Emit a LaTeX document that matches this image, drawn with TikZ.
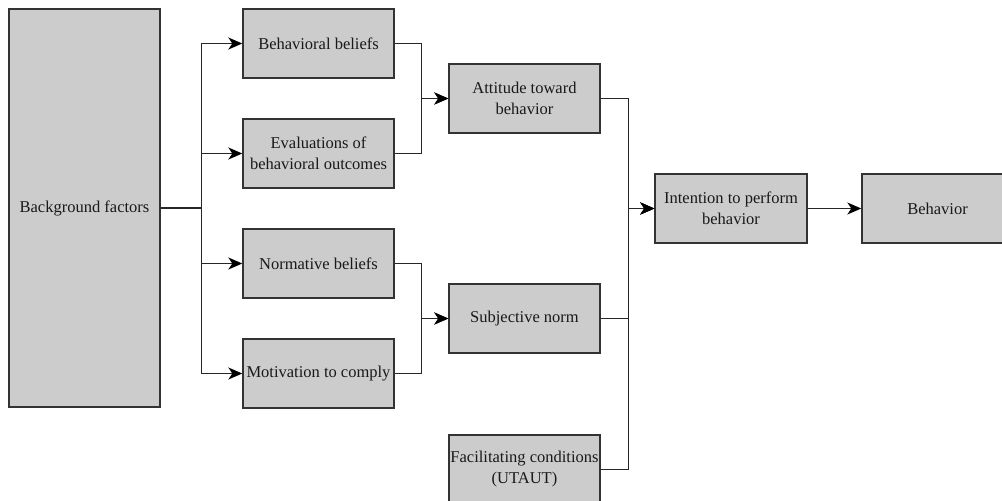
\documentclass[tikz,border=0pt]{standalone}
\usepackage{fontspec}
\setmainfont{Liberation Serif}
\newfontfamily\figfont{Liberation Serif}
\usetikzlibrary{arrows.meta}
\begin{document}
\begin{tikzpicture}[x=1pt,y=-1pt,
  box/.style={draw=black!80, line width=1.4pt, fill=black!20, minimum width=151pt, minimum height=69pt,
    inner sep=1pt, align=center, font=\figfont\fontsize{16.5}{21}\selectfont, text=black!90},
  conn/.style={draw=black!85, line width=1.5pt},
  arr/.style={conn, -{Stealth[length=14pt,width=12pt,inset=4pt,fill=black,color=black]}}]
\useasboundingbox (0,0) rectangle (1002,501);
\clip (0,0) rectangle (1002,501);
\fill[white] (0,0) rectangle (1002,501);
\node[box, minimum height=398pt] (bg) at (84.5,208) {Background factors};
\node[box] (bb) at (318.5,43.5) {Behavioral beliefs};
\node[box] (ev) at (318.5,153.5) {Evaluations of\\behavioral outcomes};
\node[box] (nb) at (318.5,263.5) {Normative beliefs};
\node[box] (mc) at (318.5,373.5) {Motivation to comply};
\node[box] (att) at (524.5,98.5) {Attitude toward\\behavior};
\node[box] (sn) at (524.5,318.5) {Subjective norm};
\node[box] (fc) at (524.5,469.5) {Facilitating conditions\\(UTAUT)};
\node[box, minimum width=152pt] (int) at (731,208.5) {Intention to perform\\behavior};
\node[box] (beh) at (937.5,208.5) {Behavior};
% background to beliefs
\draw[arr] (bg.east) -- ++(41,0) |- (bb.west);
\draw[arr] (bg.east) -- ++(41,0) |- (ev.west);
\draw[arr] (bg.east) -- ++(41,0) |- (nb.west);
\draw[arr] (bg.east) -- ++(41,0) |- (mc.west);
% beliefs to attitude / norm
\draw[arr] (bb.east) -- ++(27,0) |- (att.west);
\draw[arr] (ev.east) -- ++(27,0) |- (att.west);
\draw[arr] (nb.east) -- ++(27,0) |- (sn.west);
\draw[arr] (mc.east) -- ++(27,0) |- (sn.west);
% to intention
\draw[arr] (att.east) -- ++(28,0) |- (int.west);
\draw[arr] (sn.east) -- ++(28,0) |- (int.west);
\draw[arr] (fc.east) -- ++(28,0) |- (int.west);
\draw[arr] (int.east) -- (beh.west);
\end{tikzpicture}
\end{document}
